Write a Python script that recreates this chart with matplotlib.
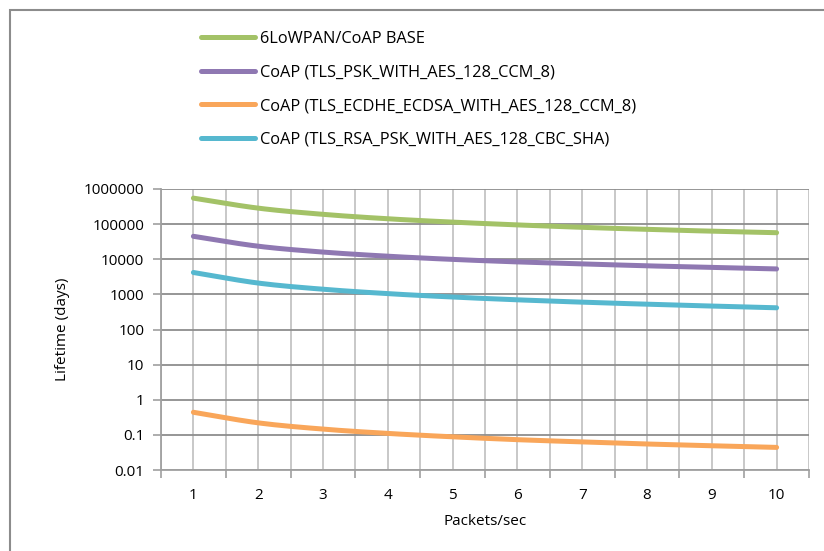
import numpy as np
import matplotlib
matplotlib.use('Agg')
import matplotlib.pyplot as plt
from matplotlib.patches import Rectangle

plt.rcParams['font.family'] = ['Open Sans', 'DejaVu Sans']

packets = [1, 2, 3, 4, 5, 6, 7, 8, 9, 10]
base = [550000, 285000, 190000, 142000, 114000, 95000, 81000, 71000, 63000, 57000]
psk_ccm = [45000, 23500, 16000, 12200, 9900, 8400, 7400, 6500, 5900, 5300]
ecdhe_ecdsa = [0.44, 0.22, 0.146, 0.11, 0.088, 0.073, 0.063, 0.055, 0.049, 0.044]
rsa_psk_cbc = [4200, 2100, 1400, 1050, 840, 700, 600, 525, 465, 415]

labels = ['6LoWPAN/CoAP BASE',
          'CoAP (TLS_PSK_WITH_AES_128_CCM_8)',
          'CoAP (TLS_ECDHE_ECDSA_WITH_AES_128_CCM_8)',
          'CoAP (TLS_RSA_PSK_WITH_AES_128_CBC_SHA)']
colors = ['#a3c267', '#8f78b2', '#f9a65a', '#56b8cf']
yticks = [0.01, 0.1, 1, 10, 100, 1000, 10000, 100000, 1000000]
ytick_labels = ['0.01', '0.1', '1', '10', '100', '1000', '10000', '100000', '1000000']


def smooth(x, y, n=20):
    # catmull-rom through the points, in log space
    x = np.asarray(x, float)
    ly = np.log10(np.asarray(y, float))
    px = np.concatenate([[2 * x[0] - x[1]], x, [2 * x[-1] - x[-2]]])
    py = np.concatenate([[2 * ly[0] - ly[1]], ly, [2 * ly[-1] - ly[-2]]])
    xs, ys = [], []
    t = np.linspace(0, 1, n, endpoint=False)
    for i in range(1, len(px) - 2):
        for p, out in ((px, xs), (py, ys)):
            p0, p1, p2, p3 = p[i - 1], p[i], p[i + 1], p[i + 2]
            out.extend(0.5 * (2 * p1 + (-p0 + p2) * t + (2 * p0 - 5 * p1 + 4 * p2 - p3) * t ** 2
                              + (-p0 + 3 * p1 - 3 * p2 + p3) * t ** 3))
    xs.append(x[-1])
    ys.append(ly[-1])
    return np.array(xs), 10 ** np.array(ys)


fig = plt.figure(figsize=(8.24, 5.51), dpi=100)
fig.patches.append(Rectangle((10 / 824, -0.1), 1.2, 1 - 10 / 551 + 0.1, transform=fig.transFigure,
                             fill=False, edgecolor='#8c8c8c', linewidth=1.5))

ax = fig.add_axes([161 / 824, 1 - 470 / 551, 648 / 824, 281 / 551])
for series, lab, col in zip([base, psk_ccm, ecdhe_ecdsa, rsa_psk_cbc], labels, colors):
    sx, sy = smooth(packets, series)
    ax.plot(sx, sy, color=col, linewidth=3.6, solid_capstyle='round', label=lab)

ax.set_yscale('log')
ax.set_ylim(0.01, 1000000)
ax.set_xlim(0.5, 10.5)
ax.set_yticks(yticks)
ax.set_yticklabels(ytick_labels)
ax.yaxis.set_minor_locator(matplotlib.ticker.NullLocator())
ax.set_xticks(packets)
ax.set_xticks(np.arange(0.5, 11, 1), minor=True)
ax.tick_params(axis='x', which='major', length=0, pad=13, labelsize=11)
ax.tick_params(axis='x', which='minor', length=6, color='#a0a0a0', width=1.2)
ax.tick_params(axis='y', which='major', length=6, color='#a0a0a0', width=1.2, pad=6, labelsize=11)

for xv in np.arange(0.5, 10.6, 0.5):
    ax.axvline(xv, color='#c4c4c4', linewidth=1.3, zorder=0)
for yv in yticks:
    ax.axhline(yv, color='#8e8e8e', linewidth=1.3, zorder=0)

for side in ['top', 'right']:
    ax.spines[side].set_visible(False)
ax.spines['left'].set_color('#a0a0a0')
ax.spines['bottom'].set_color('#a0a0a0')
ax.spines['left'].set_linewidth(1.3)
ax.spines['bottom'].set_linewidth(1.3)

ax.set_xlabel('Packets/sec', fontsize=11, labelpad=8)
ax.set_ylabel('Lifetime (days)', fontsize=11, labelpad=10)

fig.legend(loc='upper left', bbox_to_anchor=(186 / 824, 1 - 16 / 551), frameon=False,
           fontsize=11.8, handlelength=3.3, handletextpad=0.3, labelspacing=1.08)

fig.savefig('out.png', dpi=100)
